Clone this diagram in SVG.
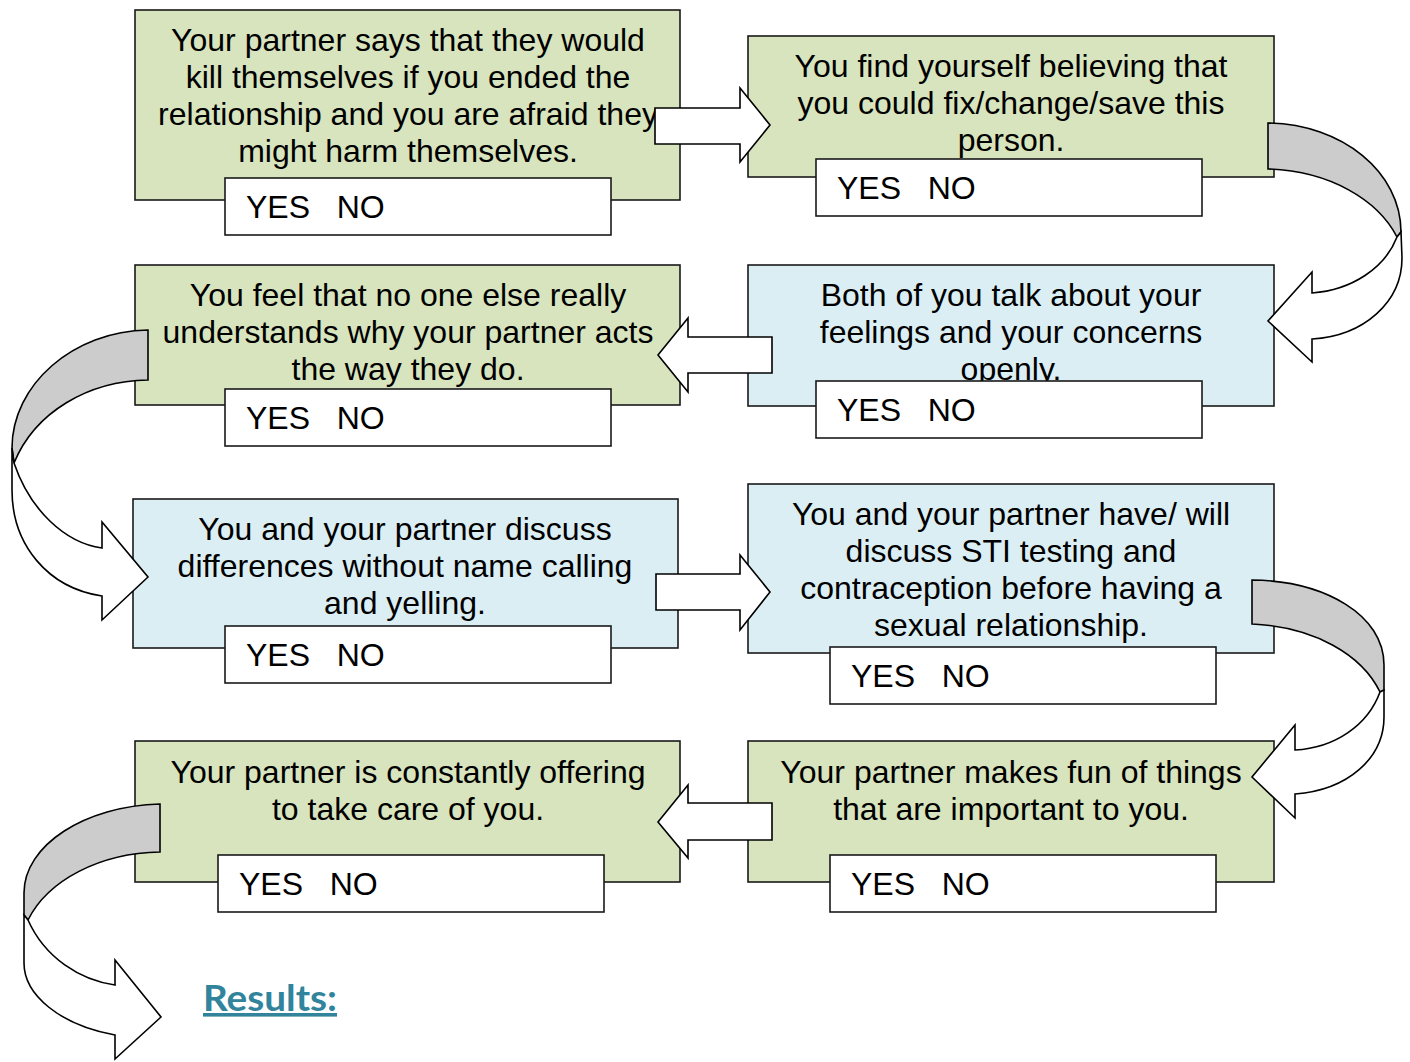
<svg xmlns="http://www.w3.org/2000/svg" width="1410" height="1062" viewBox="0 0 1410 1062">
<style>
.box{stroke:#1a1a1a;stroke-width:1.6}
.g{fill:#D7E4BD}
.b{fill:#DBEEF4}
.yn{fill:#fff;stroke:#1a1a1a;stroke-width:1.6}
.t{font-family:"Liberation Sans",Arial,sans-serif;font-size:32px;fill:#000;text-anchor:middle}
.y{font-family:"Liberation Sans",Arial,sans-serif;font-size:32px;fill:#000}
.arw{fill:#fff;stroke:#000;stroke-width:1.6;stroke-linejoin:miter}
.gry{fill:#CCCCCC;stroke:#000;stroke-width:1.6}
.res{font-family:Lato,"Open Sans",sans-serif;font-weight:bold;font-size:36px;fill:#31849B;text-decoration:underline}
</style>
<rect width="1410" height="1062" fill="#fff"/>

<g id="node1">
<rect class="box g" x="135" y="10" width="545" height="190"/>
<text class="t" x="408" y="51">Your partner says that they would</text>
<text class="t" x="408" y="88">kill themselves if you ended the</text>
<text class="t" x="408" y="125">relationship and you are afraid they</text>
<text class="t" x="408" y="162">might harm themselves.</text>
<rect class="yn" x="225" y="178" width="386" height="57"/>
<text class="y" x="246" y="218" xml:space="preserve">YES   NO</text>
</g>

<g id="node2">
<rect class="box g" x="748" y="36" width="526" height="141"/>
<text class="t" x="1011" y="77">You find yourself believing that</text>
<text class="t" x="1011" y="114">you could fix/change/save this</text>
<text class="t" x="1011" y="151">person.</text>
<rect class="yn" x="816" y="159" width="386" height="57"/>
<text class="y" x="837" y="199" xml:space="preserve">YES   NO</text>
</g>

<g id="node3">
<rect class="box g" x="135" y="265" width="545" height="140"/>
<text class="t" x="408" y="306">You feel that no one else really</text>
<text class="t" x="408" y="343">understands why your partner acts</text>
<text class="t" x="408" y="380">the way they do.</text>
<rect class="yn" x="225" y="389" width="386" height="57"/>
<text class="y" x="246" y="429" xml:space="preserve">YES   NO</text>
</g>

<g id="node4">
<rect class="box b" x="748" y="265" width="526" height="141"/>
<text class="t" x="1011" y="306">Both of you talk about your</text>
<text class="t" x="1011" y="343">feelings and your concerns</text>
<text class="t" x="1011" y="380">openly.</text>
<rect class="yn" x="816" y="381" width="386" height="57"/>
<text class="y" x="837" y="421" xml:space="preserve">YES   NO</text>
</g>

<g id="node5">
<rect class="box b" x="133" y="499" width="545" height="149"/>
<text class="t" x="405" y="540">You and your partner discuss</text>
<text class="t" x="405" y="577">differences without name calling</text>
<text class="t" x="405" y="614">and yelling.</text>
<rect class="yn" x="225" y="626" width="386" height="57"/>
<text class="y" x="246" y="666" xml:space="preserve">YES   NO</text>
</g>

<g id="node6">
<rect class="box b" x="748" y="484" width="526" height="169"/>
<text class="t" x="1011" y="525">You and your partner have/ will</text>
<text class="t" x="1011" y="562">discuss STI testing and</text>
<text class="t" x="1011" y="599">contraception before having a</text>
<text class="t" x="1011" y="636">sexual relationship.</text>
<rect class="yn" x="830" y="647" width="386" height="57"/>
<text class="y" x="851" y="687" xml:space="preserve">YES   NO</text>
</g>

<g id="node7">
<rect class="box g" x="135" y="741" width="545" height="141"/>
<text class="t" x="408" y="783">Your partner is constantly offering</text>
<text class="t" x="408" y="820">to take care of you.</text>
<rect class="yn" x="218" y="855" width="386" height="57"/>
<text class="y" x="239" y="895" xml:space="preserve">YES   NO</text>
</g>

<g id="node8">
<rect class="box g" x="748" y="741" width="526" height="141"/>
<text class="t" x="1011" y="783">Your partner makes fun of things</text>
<text class="t" x="1011" y="820">that are important to you.</text>
<rect class="yn" x="830" y="855" width="386" height="57"/>
<text class="y" x="851" y="895" xml:space="preserve">YES   NO</text>
</g>

<g id="connectors">
<path class="arw" d="M655,108 L740,108 L740,88 L770,125 L740,162 L740,144 L655,144 Z"/>
<path class="arw" d="M772,337 L688,337 L688,318 L658,355 L688,392 L688,373 L772,373 Z"/>
<path class="arw" d="M656,574 L740,574 L740,555 L770,592 L740,630 L740,610 L656,610 Z"/>
<path class="arw" d="M772,803 L688,803 L688,785 L658,822 L688,858 L688,840 L772,840 Z"/>

<path class="gry" d="M1268,123 C1342,124 1401,172 1401,232 L1397,237 C1378,200 1330,171 1268,169 Z"/>
<path class="arw" d="M1397,237 C1385,268 1352,290 1312,293 L1312,272 L1268,321 L1312,362 L1312,339 C1364,336 1402,302 1402,258 L1401,232 Z"/>

<path class="gry" d="M148,330 C73,331 12,385 12,448 L14,463 C35,412 88,381 148,380 Z"/>
<path class="arw" d="M14,463 C30,510 65,543 102,548 L102,522 L148,577 L102,620 L102,596 C48,588 12,545 12,490 L12,448 Z"/>

<path class="gry" d="M1252,580 C1325,581 1384,615 1384,665 L1384,690 L1380,692 C1362,655 1315,627 1252,624 Z"/>
<path class="arw" d="M1380,692 C1368,725 1335,748 1295,750 L1295,725 L1252,777 L1295,818 L1295,794 C1348,790 1384,758 1384,717 L1384,690 Z"/>

<path class="gry" d="M160,804 C85,806 24,845 24,893 L24,915 L28,920 C48,880 100,853 160,852 Z"/>
<path class="arw" d="M28,920 C45,958 80,980 115,985 L115,960 L161,1017 L115,1059 L115,1035 C60,1025 24,995 24,963 L24,915 Z"/>
</g>

<text class="res" x="203" y="1011" textLength="134" lengthAdjust="spacingAndGlyphs">Results:</text>
</svg>
